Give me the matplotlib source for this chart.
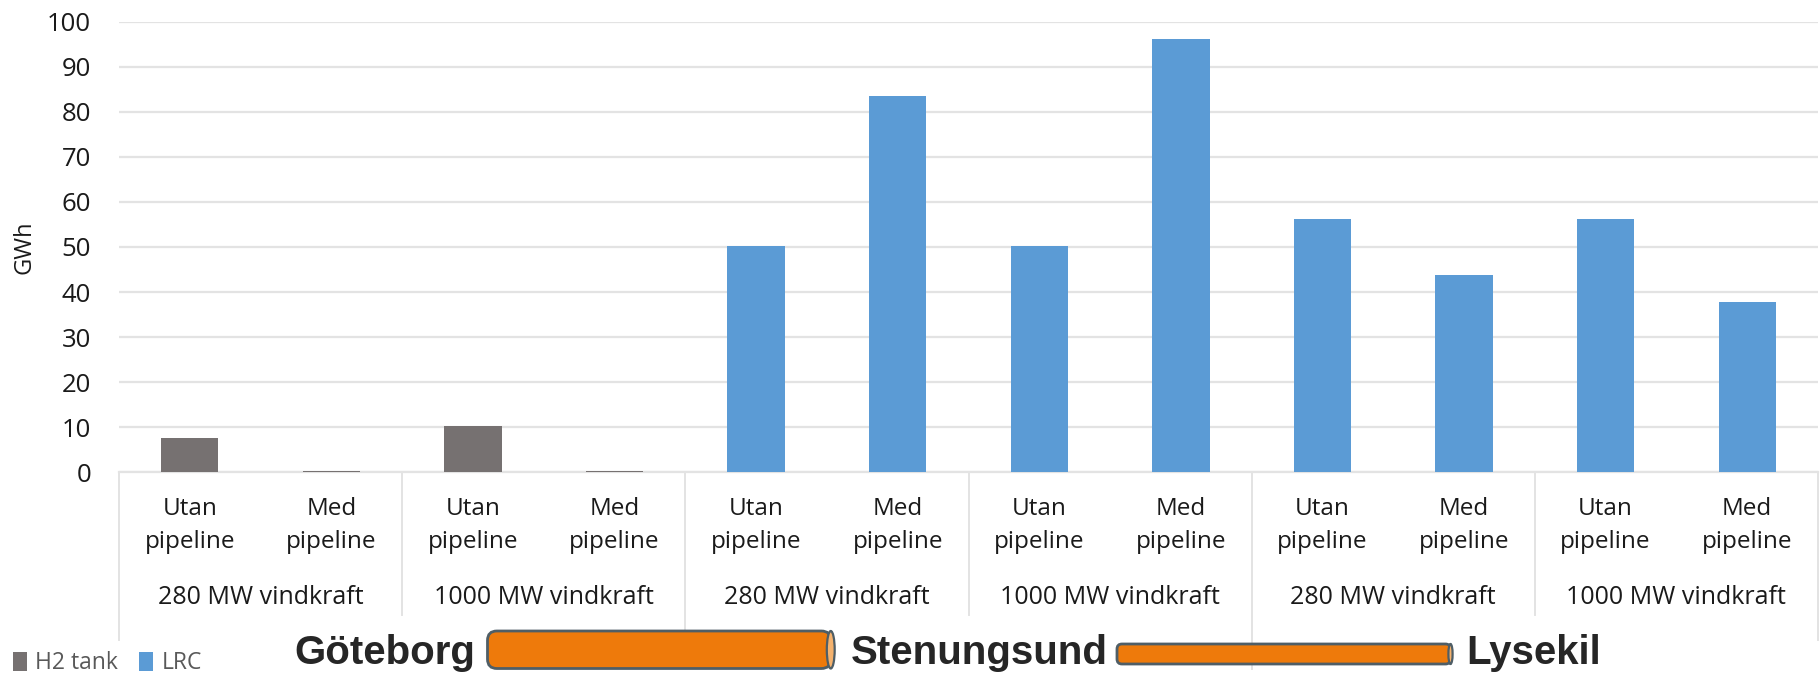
import matplotlib
matplotlib.use("Agg")
import matplotlib.pyplot as plt
from matplotlib.patches import FancyBboxPatch, Ellipse
from matplotlib.transforms import Affine2D

W, H = 1820, 677
categories = ["Utan\npipeline", "Med\npipeline"] * 6
groups = ["280 MW vindkraft", "1000 MW vindkraft"] * 3
h2_tank = [7.6, 0.3, 10.3, 0.3, 0, 0, 0, 0, 0, 0, 0, 0]
lrc = [0, 0, 0, 0, 50.2, 83.4, 50.2, 96.2, 56.2, 43.8, 56.2, 37.8]
yticks = list(range(0, 101, 10))
sep_ends = [640, 615, 630, 615, 669, 615, 640]  # pixel y where separators end

GRID = "#e3e3e3"
TXT = "#1a1a1a"
FONT = "Open Sans"
plt.rcParams["font.family"] = [FONT, "DejaVu Sans"]

fig = plt.figure(figsize=(W / 100, H / 100), dpi=100)
L, R, T, B = 119, 1818, 21.7, 472.3
ax = fig.add_axes([L / W, 1 - B / H, (R - L) / W, (B - T) / H])
pix = Affine2D().scale(1, -1).translate(0, H)  # reference pixels -> display

x = list(range(12))
b1 = ax.bar(x, h2_tank, width=0.405, color="#767171", label="H2 tank", zorder=3)
b2 = ax.bar(x, lrc, width=0.405, color="#5B9BD5", label="LRC", zorder=3)
ax.set_xlim(-0.5, 11.5)
ax.set_ylim(0, 100)
ax.set_yticks(yticks)
ax.grid(axis="y", color=GRID, lw=1.6, zorder=0)
ax.set_axisbelow(True)
for s in ("top", "right", "left"):
    ax.spines[s].set_visible(False)
ax.spines["bottom"].set_color(GRID)
ax.spines["bottom"].set_linewidth(1.6)
ax.tick_params(axis="y", length=0, labelsize=18.5, labelcolor=TXT, pad=20)
ax.set_xticks(x)
ax.set_xticklabels(categories, fontsize=17.5, color=TXT, linespacing=1.5)
ax.tick_params(axis="x", length=0, pad=18)
ax.set_ylabel("GWh", fontsize=17, color=TXT)
ax.yaxis.set_label_coords((36 - L) / (R - L), 0.5)

# group labels and separators
for i, g in enumerate(groups):
    px = L + (R - L) * (2 * i + 1) / 12
    fig.text(px / W, 1 - 598 / H, g, ha="center", va="center", fontsize=18, color=TXT)
for i, end in enumerate(sep_ends):
    px = L + (R - L) * i / 6
    fig.add_artist(plt.Line2D([px / W, px / W], [1 - B / H, 1 - end / H], color=GRID, lw=1.4, zorder=1))


def pipe(x0, x1, y0, y1):
    r = (y1 - y0) / 2
    body = FancyBboxPatch((x0, y0), x1 - x0 - r * .2, y1 - y0,
                          boxstyle=f"round,pad=0,rounding_size={r * .5}",
                          fc="#EE7A0B", ec="#4f5e66", lw=2, transform=pix, zorder=5)
    cap = Ellipse((x1 - r * .2, (y0 + y1) / 2), r * .42, y1 - y0, fc="#F4B26E", ec="#4f5e66",
                  lw=1.6, transform=pix, zorder=6)
    fig.add_artist(body)
    fig.add_artist(cap)


pipe(487.5, 834.5, 631, 668.5)
pipe(1117, 1452.5, 644, 664)
for lbl, xc in (("Göteborg", 385), ("Stenungsund", 979.5), ("Lysekil", 1534)):
    fig.text(xc / W, 1 - 653 / H, lbl, ha="center", va="center", fontsize=29, fontweight="bold",
             family="Liberation Sans", color="#262626", zorder=7)

fig.legend(handles=[b1, b2], loc="lower left", bbox_to_anchor=(13 / W, 2 / H), ncol=2, frameon=False,
           fontsize=16.5, labelcolor="#595959", handlelength=0.62, handleheight=0.9, handletextpad=0.35,
           columnspacing=0.92, borderpad=0, borderaxespad=0)
fig.savefig("out.png", dpi=100, facecolor="white")
